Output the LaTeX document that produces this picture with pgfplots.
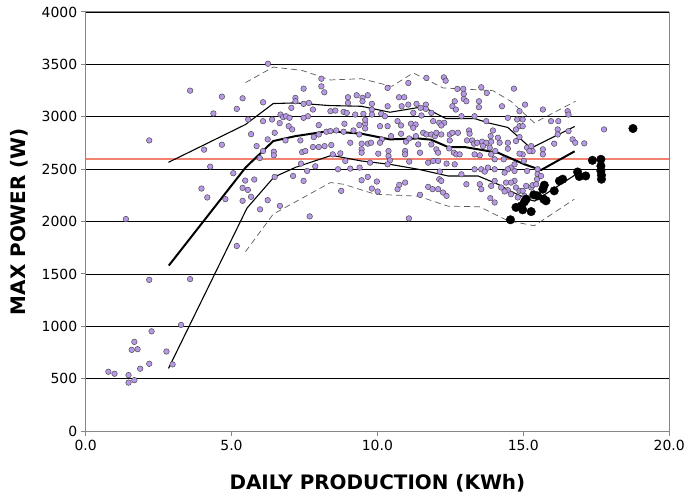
\documentclass[border=0pt]{standalone}
\usepackage{fontspec}
\setmainfont{DejaVu Sans}
\usepackage{pgfplots}
\pgfplotsset{compat=1.18}
\definecolor{lav}{RGB}{184,153,232}
\definecolor{redl}{RGB}{242,130,112}
\definecolor{axgray}{RGB}{134,134,134}
\definecolor{dashg}{RGB}{90,90,90}
\begin{document}
\begin{tikzpicture}
\begin{axis}[
  scale only axis, width=586pt, height=421pt,
  xmin=0, xmax=20, ymin=0, ymax=4000,
  xtick={0,5,10,15,20}, ytick={0,500,...,3500},
  separate axis lines,
  axis line style={axgray, line width=1pt},
  every outer x axis line/.append style={axgray, line width=1pt},
  every outer y axis line/.append style={axgray, line width=1pt},
  ymajorgrids, grid style={black, line width=0.6pt},
  tick align=outside, major tick length=5pt,
  tick style={axgray, line width=1pt},
  xtick pos=left, ytick pos=left,
  extra y ticks={4000},
  /pgf/number format/assume math mode=true,
  /pgf/number format/1000 sep={},
  tick label style={font=\fontsize{14}{16}\selectfont},
  xticklabel style={/pgf/number format/fixed, /pgf/number format/fixed zerofill, /pgf/number format/precision=1},
  xlabel={DAILY PRODUCTION (KWh)}, ylabel={MAX POWER (W)},
  every axis x label/.style={at={(axis description cs:0.5,-0.1235)}, anchor=center, font=\bfseries\fontsize{20}{24}\selectfont},
  every axis y label/.style={at={(axis description cs:-0.1143,0.5)}, anchor=center, rotate=90, font=\bfseries\fontsize{20}{24}\selectfont},
]
\addplot[redl, line width=1.8pt] coordinates {(0,2600) (20,2600)};
\addplot[only marks, mark=*, mark size=2.8pt, mark options={fill=lav, draw=black!70, line width=0.5pt}] table {
x y
3.58 3249
2.18 2774
4.67 3192
4.38 3031
5.38 3176
5.18 3075
4.67 2733
4.06 2686
4.27 2524
5.06 2461
5.47 2391
3.97 2315
5.38 2321
4.17 2230
4.79 2214
5.38 2198
5.56 2302
1.38 2024
5.57 2974
5.18 1767
2.18 1444
3.58 1451
3.27 1014
2.26 953
1.67 852
1.58 776
1.78 782
2.77 760
2.18 643
1.87 596
2.98 637
0.78 567
0.99 548
1.47 535
1.67 487
1.47 463
6.08 3138
6.08 2958
6.25 3506
5.67 2834
5.86 2720
6.24 2784
6.08 2673
5.97 2606
5.78 2401
5.67 2236
6.24 2204
5.98 2116
8.08 3363
8.08 3290
8.18 3233
7.47 3268
7.19 3180
7.19 3148
7.05 3085
7.47 3123
7.65 3132
7.79 3069
7.62 3005
7.47 2990
8.39 3053
8.56 3059
8.84 3047
6.39 2974
6.68 3021
6.77 2996
6.87 3005
6.99 2990
6.65 2939
6.96 2910
7.08 2879
6.48 2847
7.99 2920
8.25 2857
8.39 2863
8.59 2869
8.84 2857
6.85 2774
7.36 2774
7.82 2806
7.99 2831
7.79 2711
7.99 2711
8.19 2720
8.42 2730
7.42 2663
7.53 2673
6.45 2667
6.45 2632
8.47 2641
8.73 2651
7.38 2553
7.87 2527
7.59 2483
7.47 2388
7.11 2435
6.48 2426
8.65 2499
8.76 2293
6.66 2150
7.68 2049
10.35 3275
11.06 3322
8.99 3186
8.99 3132
9.29 3205
9.49 3180
9.67 3205
9.49 3148
9.81 3123
9.81 3069
10.35 3100
10.74 3186
10.92 3186
10.83 3100
11.06 3116
11.34 3123
8.95 3037
9.24 3021
9.52 3028
9.81 3021
10.13 3028
10.26 3005
8.87 2933
9.38 2920
9.58 2933
9.58 2971
10.09 2910
10.35 2910
10.69 2958
10.81 2917
11.15 2933
11.31 2926
9.18 2869
9.38 2831
9.58 2888
9.07 2752
9.46 2743
9.67 2743
9.78 2752
10.15 2784
10.09 2752
10.47 2815
10.81 2838
10.98 2762
11.09 2793
9.46 2689
9.46 2657
10.03 2648
10.38 2673
10.38 2625
10.95 2673
10.95 2641
10.43 2584
10.35 2546
11.09 2572
8.90 2578
9.07 2505
9.39 2515
9.75 2562
9.46 2394
9.67 2426
9.98 2382
9.81 2315
10.01 2287
10.69 2309
10.75 2350
10.95 2372
11.08 2030
11.68 3370
12.28 3376
12.34 3344
12.74 3266
12.94 3266
13.56 3281
13.75 3227
12.96 3218
12.96 3170
12.65 3148
13.05 3148
13.48 3148
13.48 3091
12.57 3100
12.69 3069
11.66 3116
11.66 3075
11.48 3085
11.23 3037
11.51 3012
11.85 3037
11.91 2958
12.12 2942
12.29 2942
12.19 2917
12.88 3005
13.33 3005
13.73 2958
11.23 2895
11.32 2815
11.57 2847
11.68 2831
11.85 2831
11.97 2815
12.02 2847
12.19 2831
12.48 2831
12.57 2847
12.76 2847
12.48 2774
13.14 2869
13.16 2838
13.07 2774
13.25 2774
13.31 2743
13.42 2752
13.59 2762
13.73 2752
13.90 2762
13.62 2720
13.85 2705
11.40 2736
11.46 2657
11.85 2736
12.02 2689
12.08 2657
12.46 2698
12.62 2657
12.71 2641
12.82 2641
13.33 2641
13.51 2632
11.91 2578
12.08 2578
11.74 2562
12.37 2553
12.65 2546
12.88 2451
13.33 2499
13.56 2499
13.68 2477
13.79 2515
12.14 2477
12.12 2404
12.19 2388
11.74 2331
11.89 2309
12.08 2309
12.25 2277
12.37 2245
11.46 2255
13.51 2356
13.90 2340
13.05 2356
13.87 2223
13.56 2309
14.68 3268
14.27 3100
15.06 3116
14.87 3053
15.67 3069
16.52 3053
14.47 2990
14.79 2974
14.98 2974
15.95 2958
16.20 2958
16.18 2879
16.18 2831
16.06 2743
14.87 2910
14.98 2910
14.75 2879
13.96 2869
14.13 2800
14.19 2752
14.47 2752
13.88 2815
14.75 2768
14.47 2695
14.87 2806
15.13 2705
15.27 2720
15.32 2673
15.21 2673
14.98 2641
14.87 2648
15.02 2578
15.67 2689
15.67 2641
13.90 2641
14.02 2594
14.33 2594
14.04 2673
14.70 2483
14.58 2515
14.47 2499
14.70 2546
14.36 2467
14.02 2499
15.13 2483
15.49 2499
15.49 2451
15.47 2404
15.61 2435
14.02 2388
14.41 2372
14.70 2388
14.58 2372
14.24 2325
14.47 2299
14.75 2325
14.87 2293
14.98 2293
15.10 2340
15.27 2325
14.02 2182
14.36 2287
14.58 2261
14.81 2230
15.04 2245
15.32 2347
15.44 2356
16.55 3021
16.55 2863
16.69 2784
16.78 2752
17.09 2746
17.77 2879
};
\addplot[black, line width=1.1pt] coordinates {
(2.84,2565) (5.48,2926) (6.43,3126) (7.19,3132) (8.33,3107) (9.45,3100) (10.43,3043) (11.40,3088) (11.74,3069) (12.35,2983) (13.33,2983) (13.79,2942) (14.47,2898) (15.26,2700) (16.76,2907)};
\addplot[black, line width=2pt] coordinates {
(2.85,1580) (5.48,2515) (6.43,2768) (7.19,2815) (8.33,2863) (9.46,2838) (10.43,2784) (11.40,2793) (11.84,2781) (12.42,2711) (12.99,2711) (14.13,2657) (15.04,2546) (15.61,2492) (16.76,2670)};
\addplot[black, line width=1.1pt] coordinates {
(2.84,599) (5.53,2128) (6.45,2423) (7.20,2518) (8.43,2632) (9.45,2578) (10.43,2546) (11.40,2499) (12.42,2435) (13.45,2435) (14.13,2356) (14.64,2280) (15.15,2214) (15.39,2195) (16.76,2442)};
\addplot[dashg, line width=0.7pt, dash pattern=on 6pt off 4pt] coordinates {
(5.48,3326) (6.43,3474) (7.42,3442) (8.39,3351) (9.46,3363) (10.49,3290) (11.23,3418) (12.25,3275) (13.96,3249) (14.57,3148) (15.38,2942) (16.79,3148)};
\addplot[dashg, line width=0.7pt, dash pattern=on 6pt off 4pt] coordinates {
(5.48,1713) (6.43,2071) (8.39,2372) (8.84,2356) (9.92,2261) (11.40,2242) (12.42,2147) (13.50,2141) (14.47,2008) (15.38,1960) (16.75,2214)};
\addplot[only marks, mark=*, mark size=4.3pt, mark options={fill=black, draw=black}] table {
x y
14.56 2017
14.75 2135
14.93 2150
14.98 2112
15.04 2188
15.10 2214
15.27 2095
15.36 2255
15.49 2245
15.67 2309
15.72 2347
15.70 2214
15.78 2198
16.06 2293
16.24 2388
16.35 2404
16.86 2473
16.92 2430
17.14 2435
17.37 2584
17.66 2594
17.66 2530
17.66 2483
17.68 2442
17.68 2404
18.76 2888
};
\end{axis}
\path ([shift={(-86pt,-63pt)}]current axis.south west) rectangle ([shift={(16pt,12pt)}]current axis.north east);
\end{tikzpicture}
\end{document}
